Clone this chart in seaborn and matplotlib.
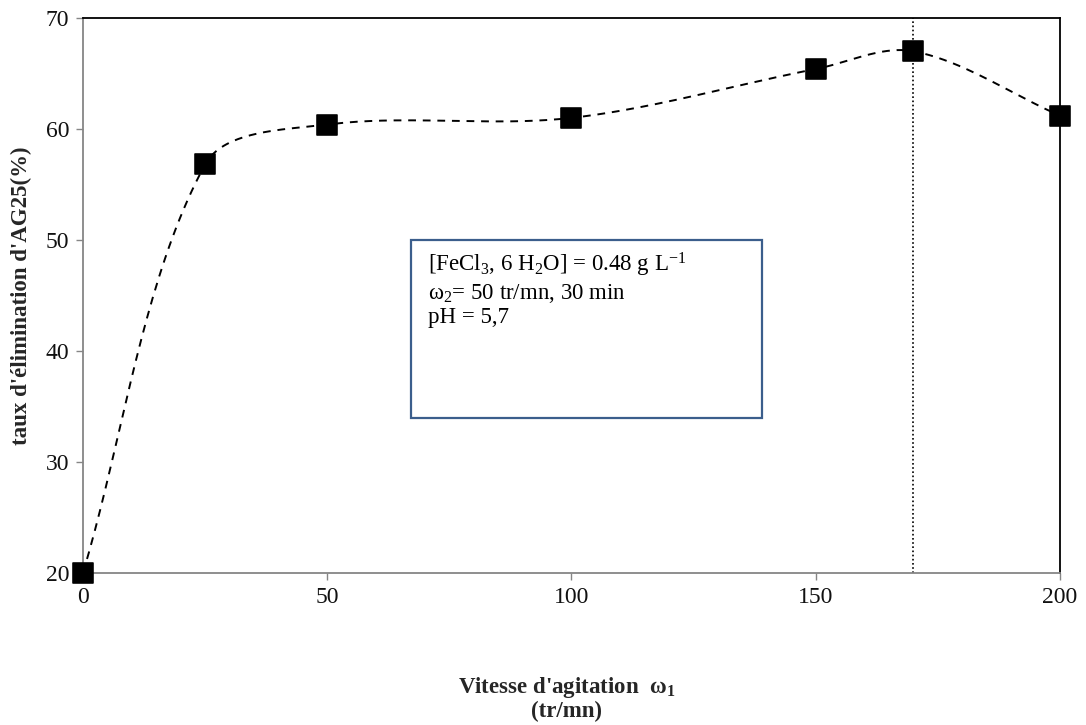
import numpy as np
import matplotlib
matplotlib.use("Agg")
import matplotlib.pyplot as plt
from matplotlib.patches import Rectangle
import seaborn as sns

speed = [0, 25, 50, 100, 150, 170, 200]
removal = [20.0, 56.8, 60.4, 61.0, 65.4, 67.0, 61.2]
x_ticks = [0, 50, 100, 150, 200]
y_ticks = [20, 30, 40, 50, 60, 70]
optimum = 170

sns.set_theme(style="white")
plt.rcParams['font.family'] = ['Liberation Serif', 'DejaVu Serif']
plt.rcParams['mathtext.fontset'] = 'custom'
plt.rcParams['mathtext.rm'] = 'Liberation Serif'
plt.rcParams['mathtext.it'] = 'Liberation Serif:italic'
plt.rcParams['mathtext.bf'] = 'Liberation Serif:bold'

# pixel-ish scale factors for chord-length weighted smoothing (Excel-like)
SX, SY = 977 / 200.0, 555 / 50.0


def smooth(xs, ys, n=40):
    P = np.column_stack([np.asarray(xs, float) * SX, np.asarray(ys, float) * SY])
    P = np.vstack([P[0], P, P[-1]])
    out = []
    for i in range(1, len(P) - 2):
        p0, p1, p2, p3 = P[i - 1], P[i], P[i + 1], P[i + 2]
        d01 = np.linalg.norm(p1 - p0); d12 = np.linalg.norm(p2 - p1); d23 = np.linalg.norm(p3 - p2)
        f1 = d12 / (d01 + d12) / 3.0 if d01 + d12 > 0 else 0
        f2 = d12 / (d12 + d23) / 3.0 if d12 + d23 > 0 else 0
        c1 = p1 + (p2 - p0) * f1
        c2 = p2 - (p3 - p1) * f2
        t = np.linspace(0, 1, n, endpoint=(i == len(P) - 3))[:, None]
        b = (1 - t) ** 3 * p1 + 3 * (1 - t) ** 2 * t * c1 + 3 * (1 - t) * t ** 2 * c2 + t ** 3 * p2
        out.append(b)
    B = np.vstack(out)
    return B[:, 0] / SX, B[:, 1] / SY


sx, sy = smooth(speed, removal)

fig = plt.figure(figsize=(10.86, 7.25), dpi=100)
ax = fig.add_axes([0.0764, 0.2097, 0.8996, 0.7655])

ax.axvline(optimum, color='black', linestyle=(0, (1, 1.5)), linewidth=1.2, zorder=1)
sns.lineplot(x=sx, y=sy, ax=ax, color='black', linewidth=1.4, sort=False,
             estimator=None, zorder=2)
ax.lines[-1].set_linestyle((0, (4, 3.5)))
sns.scatterplot(x=speed, y=removal, ax=ax, marker='s', s=210, color='black',
                edgecolor='black', zorder=3, clip_on=False)

ax.set_xlim(0, 200)
ax.set_ylim(20, 70)
ax.set_xticks(x_ticks)
ax.set_yticks(y_ticks)
ax.tick_params(axis='both', direction='out', length=5, width=1, labelsize=17,
               colors='#868686', labelcolor='#111111', bottom=True, left=True, pad=5)
for side in ['top', 'right']:
    ax.spines[side].set_color('black')
    ax.spines[side].set_linewidth(1.3)
for side in ['left', 'bottom']:
    ax.spines[side].set_color('#868686')
    ax.spines[side].set_linewidth(1.3)

ax.set_ylabel("taux d'élimination d'AG25(%)", fontsize=16.5, fontweight='bold')
ax.yaxis.set_label_coords(-0.052, 0.5)
fig.text(0.522, 0.036, "Vitesse d'agitation  ω$_\\mathbf{1}$\n(tr/mn)",
         ha='center', va='center', fontsize=16.5, fontweight='bold', linespacing=1.05)

# annotation box
ax.add_patch(Rectangle((67.1, 33.96), 71.9, 16.04, facecolor='white',
                       edgecolor='#3b5e8c', linewidth=1.6, zorder=4))
ax.text(70.6, 49.0,
        "[FeCl$_3$, 6 H$_2$O] = 0.48 g L$^{-1}$\nω$_2$= 50 tr/mn, 30 min\npH = 5,7",
        ha='left', va='top', fontsize=16.5, linespacing=1.15, zorder=5, color='black')

fig.savefig("out.png", dpi=100)
